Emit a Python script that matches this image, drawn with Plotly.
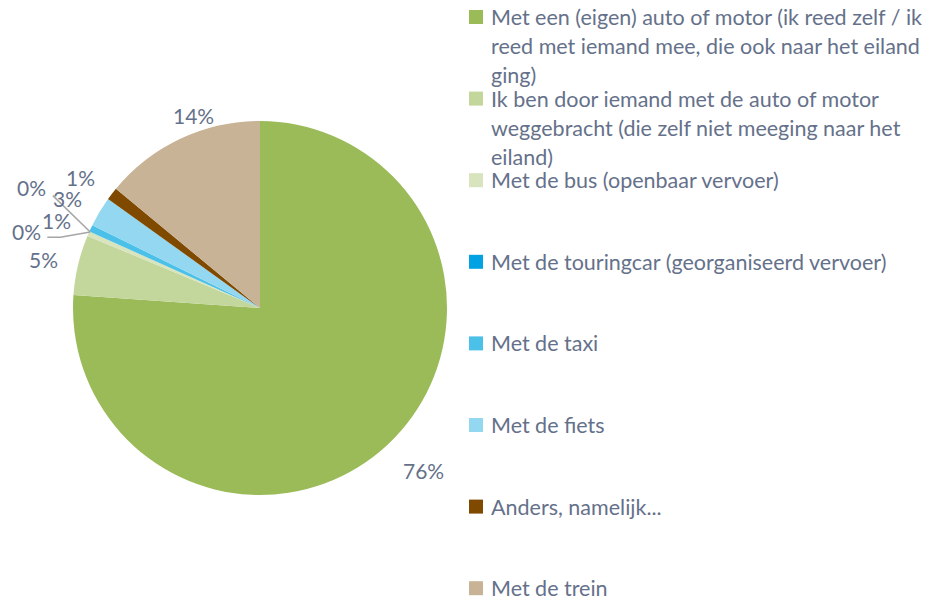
import math
import plotly.graph_objects as go

# ---- data ----
categories = [
    "Met een (eigen) auto of motor (ik reed zelf / ik reed met iemand mee, die ook naar het eiland ging)",
    "Ik ben door iemand met de auto of motor weggebracht (die zelf niet meeging naar het eiland)",
    "Met de bus (openbaar vervoer)",
    "Met de touringcar (georganiseerd vervoer)",
    "Met de taxi",
    "Met de fiets",
    "Anders, namelijk...",
    "Met de trein",
]
values = [76.1, 5.2, 0.4, 0.0, 0.6, 2.6, 1.1, 14.0]
legend_lines = [
    ["Met een (eigen) auto of motor (ik reed zelf / ik", "reed met iemand mee, die ook naar het eiland", "ging)"],
    ["Ik ben door iemand met de auto of motor", "weggebracht (die zelf niet meeging naar het", "eiland)"],
    ["Met de bus (openbaar vervoer)"],
    ["Met de touringcar (georganiseerd vervoer)"],
    ["Met de taxi"],
    ["Met de fiets"],
    ["Anders, namelijk..."],
    ["Met de trein"],
]

# ---- style ----
colors = ["#9bbb59", "#c3d69b", "#d7e4bd", "#00a2e3", "#4bc0e8", "#93d7f1", "#7f4a00", "#c9b396"]
text_color = "#65718a"
W, H = 938, 599
OFF = 8  # page body margin
cx, cy, R = 260 - OFF, 308 - OFF, 187
# label placement: (radius px, angle offset deg)
label_geom = [(230, -2.2), (222, -0.6), (246, -5.2), (258, 3.7), (221, -2), (222, -1.3), (222, -1.6), (204, 6.1)]
leader = [False, False, True, True, False, False, False, False]
leg_x, leg_y0, leg_step, line_h = 489 - OFF, 17 - OFF, 81.6, 29
sq_x0, sq_x1 = 469 - OFF, 483 - OFF


def px(x):
    return x / W


def py(y):
    return 1 - y / H


fig = go.Figure()
fig.add_trace(go.Pie(
    labels=categories, values=values, sort=False, direction="clockwise", rotation=0,
    marker=dict(colors=colors, line=dict(width=0)), textinfo="none", showlegend=False,
    domain=dict(x=[px(cx - R), px(cx + R)], y=[py(cy + R), py(cy - R)]),
    hovertemplate="%{label}: %{percent}<extra></extra>",
))

total = sum(values)
annotations = []
shapes = []
cum = 0.0
for i, v in enumerate(values):
    mid = (cum + v / 2) / total * 360
    cum += v
    r, off = label_geom[i]
    ang = math.radians(mid + off)
    lx = cx + r * math.sin(ang)
    ly = cy - r * math.cos(ang)
    pct = round(v / total * 100)
    annotations.append(dict(x=px(lx), y=py(ly), xref="paper", yref="paper", text=f"{pct}%",
                            showarrow=False, font=dict(size=21, color=text_color, family="Lato"),
                            xanchor="center", yanchor="middle"))
    if leader[i]:
        a0 = math.radians(cum / total * 360)
        rx = cx + (R - 1) * math.sin(a0)
        ry = cy - (R - 1) * math.cos(a0)
        if i == 2:
            pts = [(lx + 21, ly + 6), (lx + 34, ly + 6), (rx, ry)]
        else:
            pts = [(lx + 21, ly + 8), (rx, ry)]
        path = "M " + " L ".join(f"{px(a)},{py(b)}" for a, b in pts)
        shapes.append(dict(type="path", xref="paper", yref="paper", path=path,
                           line=dict(color="#a6a6a6", width=1.5)))

# legend
for i, lines in enumerate(legend_lines):
    y0 = leg_y0 + i * leg_step
    shapes.append(dict(type="rect", xref="paper", yref="paper",
                       x0=px(sq_x0), x1=px(sq_x1), y0=py(y0 - 7), y1=py(y0 + 7),
                       fillcolor=colors[i], line=dict(width=0)))
    for k, t in enumerate(lines):
        annotations.append(dict(x=px(leg_x), y=py(y0 + k * line_h), xref="paper", yref="paper",
                                text=t, showarrow=False, xanchor="left", yanchor="middle",
                                font=dict(size=21.5, color=text_color, family="Lato")))

fig.update_layout(width=W, height=H, margin=dict(l=0, r=0, t=0, b=0),
                  paper_bgcolor="white", plot_bgcolor="white",
                  annotations=annotations, shapes=shapes)
fig.write_html("out.html")
